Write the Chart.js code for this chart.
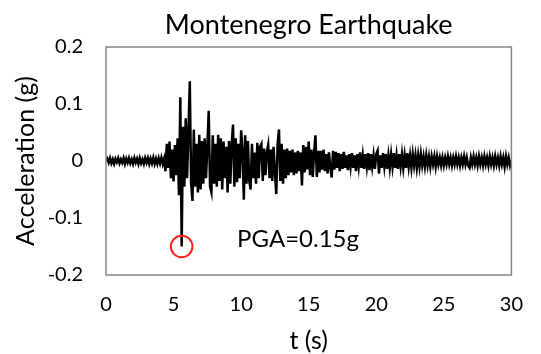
<!DOCTYPE html>
<html>
<head>
<meta charset="utf-8">
<script src="https://cdn.jsdelivr.net/npm/chart.js@4.4.1/dist/chart.umd.min.js"></script>
<style>
  html, body { margin: 0; padding: 0; background: #ffffff; }
  #wrap { width: 541px; height: 354px; }
</style>
</head>
<body>
<div id="wrap"><canvas id="chart" width="541" height="354"></canvas></div>
<script>
// Ground acceleration record, sampled every 0.1 s from t = 0 to 30 s (g)
const timeStep = 0.1;
const acceleration = [
  0.000, 0.004, -0.003, 0.005, -0.004, 0.003, -0.005, 0.004, -0.002, 0.005,
  -0.004, 0.003, -0.003, 0.005, -0.005, 0.004, -0.003, 0.005, -0.004, 0.003,
  -0.005, 0.005, -0.003, 0.004, -0.005, 0.005, -0.004, 0.003, -0.005, 0.005,
  -0.003, 0.005, -0.005, 0.004, -0.004, 0.006, -0.005, 0.004, -0.005, 0.005,
  -0.004, 0.006, -0.005, 0.004, -0.018, 0.030, -0.012, 0.034, -0.030, 0.020,
  -0.036, 0.028, -0.025, 0.040, -0.060, 0.112, -0.150, 0.060, -0.045, 0.075,
  -0.030, 0.050, 0.140, -0.040, -0.070, 0.055, -0.045, 0.030, -0.055, 0.046,
  -0.050, 0.035, -0.040, 0.040, -0.030, 0.025, 0.088, -0.045, -0.055, 0.045,
  -0.040, 0.030, -0.045, 0.046, -0.035, 0.040, -0.050, 0.034, -0.030, 0.025,
  -0.055, 0.035, -0.040, 0.030, 0.064, -0.045, 0.040, -0.037, 0.030, -0.030,
  0.054, 0.020, -0.068, 0.045, -0.040, 0.035, -0.035, -0.050, 0.030, -0.030,
  0.015, -0.040, 0.032, -0.030, 0.025, 0.030, -0.035, 0.022, -0.025, 0.015,
  0.028, -0.030, 0.020, -0.035, 0.025, -0.020, -0.058, 0.030, 0.055, -0.035,
  0.030, -0.040, 0.020, -0.030, 0.022, -0.025, 0.018, -0.020, 0.020, -0.025,
  0.015, -0.022, 0.018, -0.018, 0.015, -0.043, 0.028, -0.020, 0.025, -0.015,
  0.034, -0.025, 0.020, -0.028, 0.015, 0.045, -0.028, 0.018, -0.020, 0.018,
  -0.015, 0.020, -0.018, 0.012, -0.022, 0.015, -0.012, -0.029, 0.018, -0.015,
  0.016, -0.012, 0.014, -0.018, 0.012, -0.014, 0.016, -0.012, 0.010, -0.016,
  0.012, -0.010, 0.014, -0.012, 0.010, -0.018, 0.012, -0.010, 0.015, -0.012,
  0.010, -0.014, 0.012, -0.010, 0.014, -0.016, 0.012, -0.010, 0.010, -0.014,
  0.012, 0.018, -0.022, 0.010, -0.012, 0.014, -0.010, 0.012, -0.014, 0.010,
  -0.012, 0.012, -0.010, 0.014, -0.012, 0.010, -0.014, 0.012, -0.010, 0.012,
  -0.012, 0.010, -0.012, 0.014, -0.010, 0.010, -0.012, 0.012, -0.008, 0.010,
  -0.012, 0.010, -0.010, 0.012, -0.008, 0.008, -0.010, 0.010, -0.008, 0.008,
  -0.010, 0.008, -0.006, 0.008, -0.010, 0.008, -0.006, 0.006, -0.008, 0.006,
  -0.008, 0.006, -0.006, 0.008, -0.006, 0.006, -0.008, 0.006, -0.006, 0.008,
  -0.006, 0.006, -0.008, 0.006, -0.006, 0.008, -0.006, 0.006, -0.008, -0.012,
  0.006, -0.006, 0.008, -0.006, 0.006, -0.008, 0.008, -0.006, 0.006, -0.008,
  0.008, -0.006, 0.006, -0.008, 0.008, -0.006, 0.006, -0.008, 0.008, -0.006,
  0.006, -0.008, 0.008, -0.006, 0.006, -0.010, 0.008, -0.006, 0.006, -0.008,
  0.002
];

// Peak ground acceleration (time of peak, value)
const pgaTime = [5.6];
const pgaValue = [-0.15];
const pgaLabel = 'PGA=0.15g';

// Axis ticks and titles
const xTicks = [0, 5, 10, 15, 20, 25, 30];
const yTicks = [-0.2, -0.1, 0, 0.1, 0.2];
const yTickLabels = ['-0.2', '-0.1', '0', '0.1', '0.2'];
const chartTitle = 'Montenegro Earthquake';

const FONT = 'Lato, "Open Sans", sans-serif';
const TEXT = '#000000';

const tracePoints = acceleration.map((a, i) => ({ x: +(i * timeStep).toFixed(1), y: a }));
const pgaPoints = pgaTime.map((t, i) => ({ x: t, y: pgaValue[i] }));

// Frame around the plotting area, chart title centred over it, and the PGA note
const framePlugin = {
  id: 'frameAndLabels',
  afterDraw(chart) {
    const { ctx, chartArea: a, scales } = chart;
    ctx.save();
    ctx.strokeStyle = '#858585';
    ctx.lineWidth = 1.5;
    ctx.strokeRect(a.left, a.top, a.right - a.left, a.bottom - a.top);

    ctx.fillStyle = TEXT;
    ctx.textBaseline = 'alphabetic';
    ctx.font = '27px ' + FONT;
    ctx.textAlign = 'center';
    ctx.fillText(chartTitle, (a.left + a.right) / 2, 34);

    ctx.font = '24px ' + FONT;
    ctx.textAlign = 'left';
    ctx.fillText(pgaLabel, scales.x.getPixelForValue(9.7), scales.y.getPixelForValue(-0.151));
    ctx.restore();
  }
};

new Chart(document.getElementById('chart'), {
  type: 'line',
  data: {
    datasets: [
      {
        label: 'PGA',
        data: pgaPoints,
        showLine: false,
        order: 0,
        pointStyle: 'circle',
        pointRadius: 10.8,
        pointBorderWidth: 2,
        pointBorderColor: '#ff1f1f',
        pointBackgroundColor: 'rgba(0,0,0,0)'
      },
      {
        label: 'Acceleration',
        data: tracePoints,
        order: 1,
        borderColor: '#000000',
        borderWidth: 2.5,
        pointRadius: 0,
        tension: 0,
        fill: false
      }
    ]
  },
  options: {
    responsive: false,
    animation: false,
    events: [],
    layout: { padding: { left: 0, right: 15, top: 47, bottom: 0 } },
    plugins: {
      legend: { display: false },
      tooltip: { enabled: false },
      title: { display: false }
    },
    scales: {
      x: {
        type: 'linear',
        min: 0,
        max: 30,
        afterFit(s) { s.height = 79; },
        afterBuildTicks(s) { s.ticks = xTicks.map(v => ({ value: v })); },
        grid: { display: false, drawTicks: false },
        border: { display: false },
        ticks: {
          color: TEXT,
          padding: 18,
          maxRotation: 0,
          font: { family: FONT, size: 20 },
          callback: v => String(v)
        },
        title: {
          display: true,
          text: 't (s)',
          color: TEXT,
          font: { family: FONT, size: 25, lineHeight: 1 },
          padding: { top: 0, bottom: 0.5 }
        }
      },
      y: {
        type: 'linear',
        min: -0.2,
        max: 0.2,
        afterFit(s) { s.width = 106; },
        afterBuildTicks(s) { s.ticks = yTicks.map(v => ({ value: v })); },
        grid: { display: false, drawTicks: false },
        border: { display: false },
        ticks: {
          color: TEXT,
          padding: 23,
          font: { family: FONT, size: 20 },
          callback: v => yTickLabels[yTicks.findIndex(t => Math.abs(t - v) < 1e-9)]
        },
        title: {
          display: true,
          text: 'Acceleration (g)',
          color: TEXT,
          font: { family: FONT, size: 25, lineHeight: 1 },
          padding: { top: 13.5, bottom: 0 }
        }
      }
    }
  },
  plugins: [framePlugin]
});
</script>
</body>
</html>
